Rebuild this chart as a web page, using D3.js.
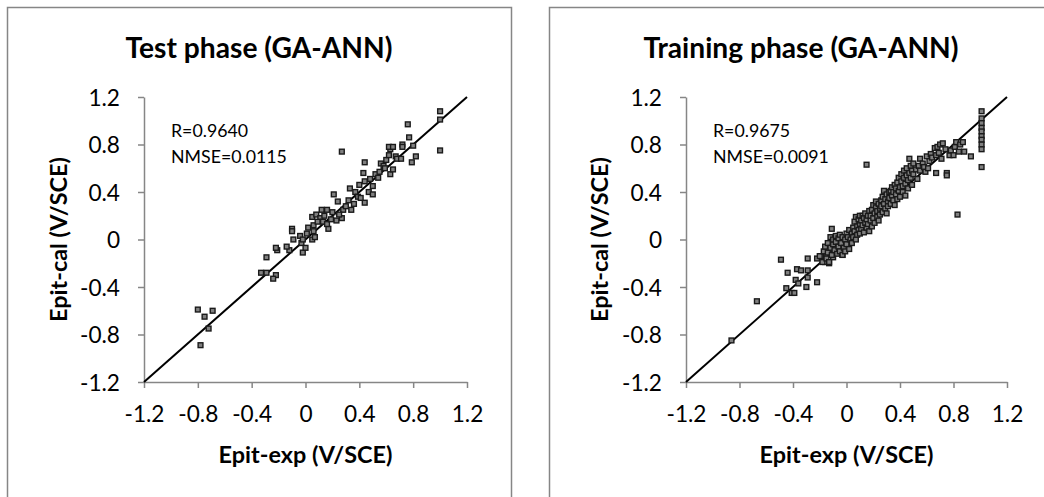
<!DOCTYPE html>
<html><head><meta charset="utf-8">
<script src="https://cdn.jsdelivr.net/npm/d3@7"></script>
<style>body{margin:0;background:#fff}svg{display:block}text{font-family:Lato,"Open Sans",sans-serif;fill:#000}</style>
</head><body><svg id="c" width="1044" height="497"></svg>
<script>
const ticks = [-1.2,-0.8,-0.4,0,0.4,0.8,1.2];
const tickLabels = ["-1.2","-0.8","-0.4","0","0.4","0.8","1.2"];
const titles = ["Test phase (GA-ANN)","Training phase (GA-ANN)"];
const stats = [["R=0.9640","NMSE=0.0115"],["R=0.9675","NMSE=0.0091"]];
const xTitle = "Epit-exp (V/SCE)";
const yTitle = "Epit-cal (V/SCE)";
const testData = [[-0.80,-0.59],[-0.75,-0.65],[-0.69,-0.60],[-0.72,-0.75],[-0.78,-0.89],
[-0.33,-0.28],[-0.29,-0.28],[-0.22,-0.30],[-0.24,-0.33],[-0.29,-0.15],[-0.21,-0.09],[-0.12,-0.09],[-0.02,-0.11],
[-0.22,-0.07],[-0.14,-0.06],[-0.10,0.09],[-0.09,0.00],[-0.10,0.07],[-0.04,0.03],[-0.03,-0.03],[0.00,-0.07],[-0.02,0.00],[0.01,0.05],[0.02,0.10],[0.05,0.00],[0.06,0.07],[0.06,0.12],[0.07,0.02],[0.05,0.19],[0.08,0.21],[0.11,0.18],[0.12,0.25],[0.13,0.15],[0.16,0.25],[0.17,0.09],[0.16,0.13],[0.20,0.23],[0.21,0.38],[0.19,0.17],[0.24,0.32],[0.23,0.16],[0.27,0.18],[0.28,0.25],[0.27,0.74],[0.32,0.33],[0.33,0.43],[0.34,0.25],[0.37,0.40],[0.39,0.36],[0.40,0.46],[0.43,0.56],[0.44,0.49],[0.44,0.65],[0.44,0.31],[0.47,0.40],[0.48,0.51],[0.50,0.45],[0.50,0.38],[0.52,0.55],[0.55,0.57],[0.56,0.64],[0.58,0.62],[0.60,0.67],[0.62,0.71],[0.63,0.55],[0.63,0.76],[0.62,0.78],[0.65,0.78],[0.65,0.59],[0.67,0.70],[0.68,0.68],[0.72,0.80],[0.72,0.78],[0.71,0.68],[0.76,0.97],[0.77,0.86],[0.80,0.79],[0.82,0.70],[0.79,0.65],[1.00,1.08],[1.00,1.01],[1.00,0.75],[0.36,0.30],[0.41,0.35],[0.30,0.28],[0.25,0.21],[0.14,0.20],[0.09,0.15],[0.54,0.52],[0.59,0.60]];
const trainData = [[-0.86,-0.85],[-0.67,-0.52],[-0.49,-0.17],[-0.44,-0.28],[-0.45,-0.41],[-0.41,-0.45],[-0.39,-0.45],[-0.37,-0.25],[-0.34,-0.26],[-0.38,-0.34],[-0.36,-0.37],[-0.29,-0.26],[-0.29,-0.32],[-0.30,-0.40],[-0.29,-0.16],[-0.22,-0.36],[-0.22,-0.16],[-0.19,-0.14],[-0.16,-0.19],[-0.13,-0.20],[-0.15,-0.13],[-0.12,-0.12],[-0.10,-0.15],[-0.08,-0.10],[-0.05,-0.10],[-0.03,-0.13],
[-0.20,-0.14],[-0.18,-0.19],[-0.17,-0.10],[-0.16,-0.06],[-0.15,-0.16],[-0.14,-0.03],[-0.14,-0.11],[-0.13,-0.19],[-0.12,-0.07],[-0.12,0.02],[-0.11,0.09],[-0.11,-0.13],[-0.10,-0.04],[-0.10,0.00],[-0.09,-0.09],[-0.08,-0.02],[-0.08,0.03],[-0.07,-0.12],[-0.06,-0.06],[-0.06,0.01],[-0.05,-0.10],[-0.05,0.04],[-0.04,-0.03],[-0.03,-0.13],[-0.03,0.02],[-0.02,-0.07],[-0.01,0.00],[-0.01,-0.10],[0.00,0.05],[0.00,-0.04],[0.01,0.02],[0.02,-0.08],[0.02,0.08],[0.03,0.00],[0.04,0.05],[0.04,-0.03],[0.05,0.10],[0.05,0.02],[0.06,0.15],[0.06,0.07],[0.07,0.00],[0.07,0.19],[0.08,0.11],[0.08,0.04],[0.09,0.17],[0.09,0.08],[0.10,0.20],[0.10,0.13],[0.10,0.05],
[0.11,0.16],[0.11,0.09],[0.12,0.20],[0.12,0.12],[0.13,0.06],[0.13,0.18],[0.14,0.14],[0.14,0.22],[0.15,0.10],[0.15,0.17],[0.16,0.20],[0.16,0.13],[0.17,0.24],[0.17,0.07],[0.18,0.16],[0.18,0.20],[0.19,0.11],[0.19,0.25],[0.20,0.18],[0.20,0.29],[0.21,0.14],[0.21,0.22],[0.22,0.27],[0.22,0.32],[0.23,0.19],[0.23,0.24],[0.24,0.16],[0.24,0.30],[0.25,0.26],[0.25,0.21],[0.26,0.33],[0.26,0.28],[0.27,0.23],[0.27,0.36],[0.28,0.41],[0.28,0.30],[0.29,0.26],[0.29,0.34],[0.30,0.38],[0.30,0.22],
[0.31,0.32],[0.31,0.28],[0.32,0.40],[0.32,0.35],[0.33,0.30],[0.33,0.41],[0.34,0.37],[0.34,0.44],[0.35,0.33],[0.35,0.40],[0.36,0.46],[0.36,0.29],[0.37,0.38],[0.37,0.43],[0.38,0.48],[0.38,0.34],[0.39,0.41],[0.39,0.52],[0.40,0.44],[0.40,0.36],[0.41,0.49],[0.41,0.55],[0.42,0.40],[0.42,0.45],[0.43,0.52],[0.43,0.58],[0.44,0.47],[0.44,0.37],[0.45,0.54],[0.45,0.60],[0.46,0.50],[0.46,0.43],[0.47,0.56],[0.47,0.68],[0.48,0.52],[0.48,0.62],[0.49,0.46],[0.49,0.58],[0.50,0.55],[0.50,0.64],
[0.52,0.59],[0.53,0.51],[0.54,0.62],[0.55,0.68],[0.55,0.58],[0.57,0.64],[0.58,0.61],[0.59,0.57],[0.60,0.70],[0.61,0.60],[0.62,0.66],[0.63,0.72],[0.64,0.69],[0.66,0.77],[0.67,0.71],[0.67,0.56],[0.68,0.78],[0.69,0.73],[0.70,0.80],[0.71,0.68],[0.72,0.81],[0.74,0.76],[0.75,0.56],[0.75,0.54],[0.77,0.71],[0.78,0.75],[0.80,0.71],[0.81,0.78],[0.82,0.82],[0.84,0.74],[0.85,0.80],[0.87,0.82],[0.88,0.74],[0.93,0.70],
[0.15,0.63],[0.83,0.21],[1.01,1.08],[1.01,1.02],[1.01,0.98],[1.01,0.94],[1.01,0.91],[1.01,0.87],[1.01,0.84],[1.01,0.80],[1.01,0.76],[1.01,0.61]];

const svg = d3.select("#c");
const grey = "#868686";
const FONT = "Lato";
function fitSize(str, weight, target){
  const t = svg.append("text").attr("font-family",FONT).attr("font-weight",weight).attr("font-size",100).text(str);
  const w = t.node().getComputedTextLength(); t.remove();
  return 100*target/w;
}
const titleSize = fitSize(titles[0],"bold",267);
const tickSize = fitSize("-1.2","normal",40);
const axTitleSize = fitSize(xTitle,"bold",174);
const statSize = fitSize("NMSE=0.0115","normal",116);

const panels = [
  {box:[7.5,7.5,504,520], plot:[144,467,97,382], data:testData, titleX:259, yTitleX:59, statX:171},
  {box:[549.5,7.5,540,520], plot:[686,1007,97,382], data:trainData, titleX:801, yTitleX:600, statX:713}
];
panels.forEach((p,i)=>{
  const g = svg.append("g");
  g.append("rect").attr("x",p.box[0]).attr("y",p.box[1]).attr("width",p.box[2]).attr("height",p.box[3])
    .attr("fill","none").attr("stroke",grey).attr("stroke-width",1.5);
  const x = d3.scaleLinear().domain([-1.2,1.2]).range([p.plot[0],p.plot[1]]);
  const y = d3.scaleLinear().domain([-1.2,1.2]).range([p.plot[3],p.plot[2]]);
  const fmt = v => tickLabels[ticks.indexOf(v)];
  const xa = g.append("g").attr("transform",`translate(0,${p.plot[3]})`)
    .call(d3.axisBottom(x).tickValues(ticks).tickFormat(fmt).tickSizeOuter(0).tickSizeInner(6).tickPadding(18));
  const ya = g.append("g").attr("transform",`translate(${p.plot[0]},0)`)
    .call(d3.axisLeft(y).tickValues(ticks).tickFormat(fmt).tickSizeOuter(0).tickSizeInner(6).tickPadding(18));
  [xa,ya].forEach(a=>{
    a.select(".domain").attr("stroke",grey).attr("stroke-width",1.5);
    a.selectAll(".tick line").attr("stroke",grey).attr("stroke-width",1.5);
    a.selectAll(".tick text").attr("font-family",FONT).attr("font-size",tickSize).attr("fill","#000");
  });
  ya.selectAll(".tick text").attr("dy","0.36em");
  g.append("line").attr("x1",x(-1.2)).attr("y1",y(-1.2)).attr("x2",x(1.2)).attr("y2",y(1.2))
    .attr("stroke","#000").attr("stroke-width",2);
  const s = 4.8;
  g.append("g").selectAll("rect").data(p.data).join("rect")
    .attr("x",d=>x(d[0])-s/2).attr("y",d=>y(d[1])-s/2).attr("width",s).attr("height",s)
    .attr("fill","#808080").attr("stroke","#1a1a1a").attr("stroke-width",1.4);
  g.append("text").attr("x",p.titleX).attr("y",58).attr("text-anchor","middle")
    .attr("font-weight","bold").attr("font-size",titleSize).text(titles[i]);
  g.append("text").attr("x",(p.plot[0]+p.plot[1])/2).attr("y",463).attr("text-anchor","middle")
    .attr("font-weight","bold").attr("font-size",axTitleSize).text(xTitle);
  g.append("text").attr("transform",`translate(${p.yTitleX+8},${(p.plot[2]+p.plot[3])/2}) rotate(-90)`)
    .attr("text-anchor","middle").attr("font-weight","bold").attr("font-size",axTitleSize).text(yTitle);
  stats[i].forEach((t,j)=>g.append("text").attr("x",p.statX).attr("y",137+j*26)
    .attr("font-size",statSize).text(t));
});
</script></body></html>
